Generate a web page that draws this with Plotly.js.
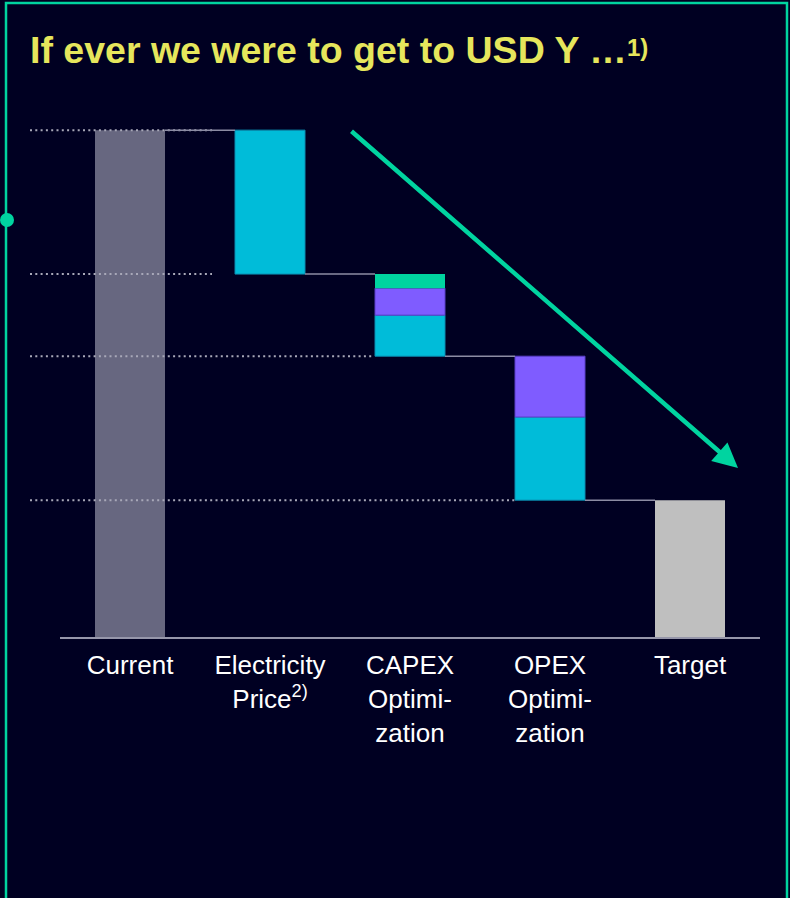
<!DOCTYPE html>
<html>
<head>
<meta charset="utf-8">
<script src="https://cdn.plot.ly/plotly-3.0.1.min.js"></script>
<style>
  html, body { margin: 0; padding: 0; background: #000022; }
  #chart { width: 790px; height: 898px; }
</style>
</head>
<body>
<div id="chart"></div>
<script>
// ---- data (index, Current = 100) ----
const categories = ['Current', 'Electricity<br>Price<sup>2)</sup>', 'CAPEX<br>Optimi-<br>zation', 'OPEX<br>Optimi-<br>zation', 'Target'];
const currentValue = 100;
const electricityDrop = 28.4;
const capexCyan = 8.1;
const capexPurple = 5.3;
const capexGreen = 2.8;
const opexCyan = 16.4;
const opexPurple = 12.0;
const targetValue = 27.0;
const titleText = '<b>If ever we were to get to USD Y …</b>';
const titleNote = '<b>1)</b>';

// ---- derived levels ----
const afterElec = currentValue - electricityDrop;
const capexTotal = capexCyan + capexPurple + capexGreen;
const afterCapex = afterElec - capexTotal;
const opexTotal = opexCyan + opexPurple;
const afterOpex = afterCapex - opexTotal;

// ---- layout geometry ----
const W = 790, H = 898;
const M = {l: 60, r: 30, t: 120, b: 261};
const PW = W - M.l - M.r, PH = H - M.t - M.b;
const px2x = px => (px - M.l) / PW;
const px2y = py => (H - M.b - py) / PH;

const TEAL = '#00d4a0';
const CYAN = '#00bcd9';
const PURPLE = '#7f5cff';
const GREEN = '#00d4a0';
const BG = '#000022';
const YELLOW = '#e6e65c';
const FONT = 'Arial, "Liberation Sans", sans-serif';

const barW = 0.5;
const traces = [
  {type: 'bar', x: [categories[0]], y: [currentValue], base: [0], width: barW,
   marker: {color: '#676780', line: {width: 0}}},
  {type: 'bar', x: [categories[1], categories[2], categories[3]],
   y: [electricityDrop, capexCyan, opexCyan],
   base: [afterElec, afterCapex, afterOpex], width: barW,
   marker: {color: CYAN, line: {width: 1, color: '#0a8db0'}}},
  {type: 'bar', x: [categories[2], categories[3]],
   y: [capexPurple, opexPurple],
   base: [afterCapex + capexCyan, afterOpex + opexCyan], width: barW,
   marker: {color: PURPLE, line: {width: 1, color: '#5a3fc8'}}},
  {type: 'bar', x: [categories[2]], y: [capexGreen],
   base: [afterCapex + capexCyan + capexPurple], width: barW,
   marker: {color: GREEN, line: {width: 0}}},
  {type: 'bar', x: [categories[4]], y: [targetValue], base: [0], width: barW,
   marker: {color: '#bfbfbf', line: {width: 0}}}
];

const levels = [currentValue, afterElec, afterCapex, afterOpex];
const dottedEnds = [212, 212, 374, 515];
const shapes = [];
// dotted level guides
levels.forEach((lv, i) => {
  shapes.push({type: 'line', xref: 'paper', yref: 'y', x0: px2x(30), x1: px2x(dottedEnds[i]),
    y0: lv, y1: lv, line: {color: '#a8a8b8', width: 2, dash: '2px,3.3px'}});
});
// connectors between bars
levels.forEach((lv, i) => {
  shapes.push({type: 'line', xref: 'x', yref: 'y', x0: i + barW / 2, x1: i + 1 - barW / 2,
    y0: lv, y1: lv, line: {color: '#8c8ca4', width: 1.5}});
});
// frame and marker dot
shapes.push({type: 'rect', xref: 'paper', yref: 'paper', x0: px2x(6), x1: px2x(787),
  y0: px2y(960), y1: px2y(3), line: {color: TEAL, width: 2.5}, fillcolor: 'rgba(0,0,0,0)'});
shapes.push({type: 'circle', xref: 'paper', yref: 'paper', x0: px2x(0), x1: px2x(14),
  y0: px2y(227), y1: px2y(213), line: {width: 0}, fillcolor: TEAL});

const annotations = [
  {xref: 'paper', yref: 'paper', x: px2x(738), y: px2y(468), ax: 350 - 738, ay: 130 - 468,
   axref: 'pixel', ayref: 'pixel', text: '', showarrow: true, arrowhead: 2, arrowsize: 1.1,
   arrowwidth: 4.5, arrowcolor: TEAL, standoff: 0, startstandoff: 0},
  {xref: 'paper', yref: 'paper', x: px2x(626), y: px2y(33), xanchor: 'left', yanchor: 'top',
   text: titleNote, showarrow: false, borderpad: 0,
   font: {family: FONT, size: 24, color: YELLOW}}
];

const layout = {
  width: W, height: H,
  margin: M,
  paper_bgcolor: BG, plot_bgcolor: BG,
  showlegend: false,
  barmode: 'overlay',
  title: {text: titleText, x: 30 / W, xanchor: 'left', xref: 'container',
    y: 1 - 37 / H, yanchor: 'top', yref: 'container',
    font: {family: FONT, size: 37.5, color: YELLOW}},
  xaxis: {type: 'category', categoryorder: 'array', categoryarray: categories,
    range: [-0.5, 4.5], showgrid: false, zeroline: false,
    showline: true, linecolor: '#9696aa', linewidth: 2, ticks: '',
    ticklabelstandoff: 4,
    tickfont: {family: FONT, size: 26, color: '#ffffff'}, fixedrange: true},
  yaxis: {range: [0, 102], showgrid: false, zeroline: false, showline: false,
    showticklabels: false, ticks: '', fixedrange: true},
  shapes: shapes,
  annotations: annotations
};

Plotly.newPlot('chart', traces, layout, {staticPlot: true, displayModeBar: false});
</script>
</body>
</html>
